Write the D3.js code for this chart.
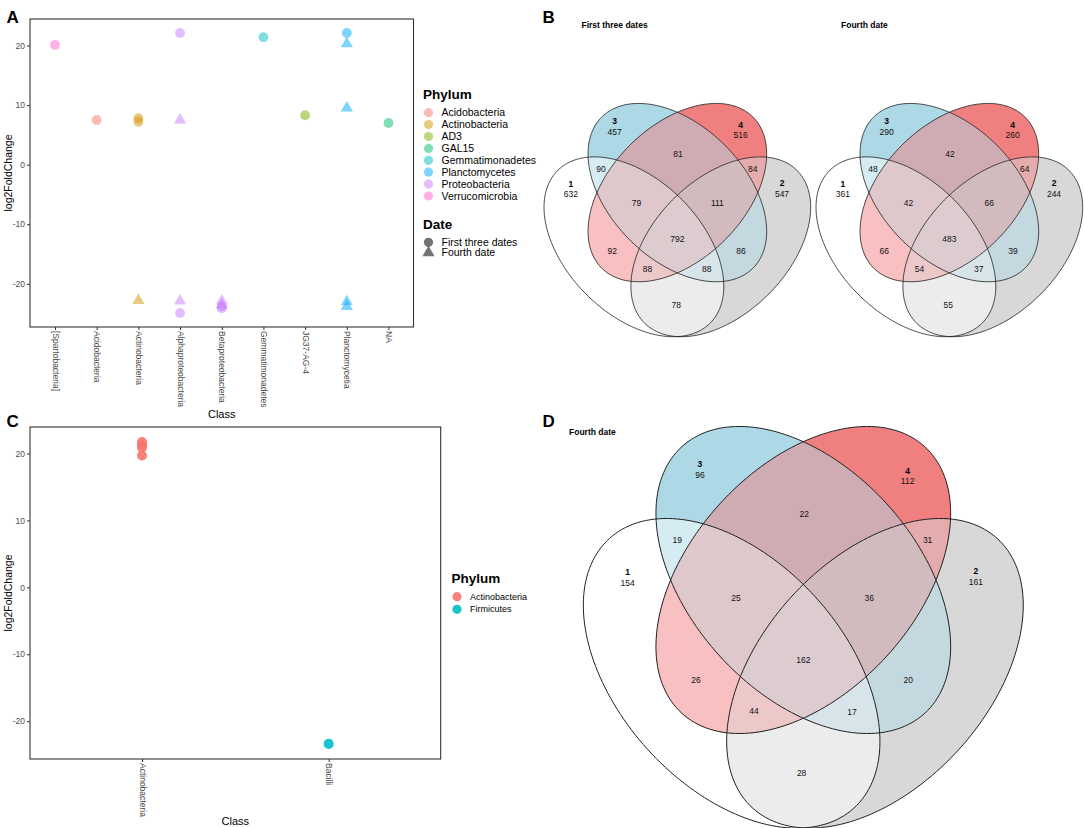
<!DOCTYPE html>
<html>
<head>
<meta charset="utf-8">
<script src="https://cdn.jsdelivr.net/npm/d3@7"></script>
<style>
  body { margin: 0; background: #fff; }
  svg { font-family: "Liberation Sans", Arial, sans-serif; }
</style>
</head>
<body>
<div id="chart"></div>
<script>
// ---- Panel A data ----
const aClasses = ["[Spartobacteria]", "Acidobacteria", "Actinobacteria", "Alphaproteobacteria",
  "Betaproteobacteria", "Gemmatimonadetes", "JG37-AG-4", "Planctomycetia", "NA"];
const aPhyla = ["Acidobacteria", "Actinobacteria", "AD3", "GAL15", "Gemmatimonadetes",
  "Planctomycetes", "Proteobacteria", "Verrucomicrobia"];
const aPhylumColors = ["#F8766D", "#CD9600", "#7CAE00", "#00BE67", "#00BFC4", "#00A9FF", "#C77CFF", "#FF61CC"];
const dates = ["First three dates", "Fourth date"];

const aPointClass = ["[Spartobacteria]", "Acidobacteria", "Actinobacteria", "Actinobacteria", "Actinobacteria",
  "Alphaproteobacteria", "Alphaproteobacteria", "Alphaproteobacteria", "Alphaproteobacteria",
  "Betaproteobacteria", "Betaproteobacteria", "Betaproteobacteria", "Betaproteobacteria",
  "Gemmatimonadetes", "JG37-AG-4", "Planctomycetia", "Planctomycetia", "Planctomycetia",
  "Planctomycetia", "Planctomycetia", "NA"];
const aPointPhylum = ["Verrucomicrobia", "Acidobacteria", "Actinobacteria", "Actinobacteria", "Actinobacteria",
  "Proteobacteria", "Proteobacteria", "Proteobacteria", "Proteobacteria",
  "Proteobacteria", "Proteobacteria", "Proteobacteria", "Proteobacteria",
  "Gemmatimonadetes", "AD3", "Planctomycetes", "Planctomycetes", "Planctomycetes",
  "Planctomycetes", "Planctomycetes", "GAL15"];
const aPointDate = [0, 0, 0, 0, 1, 0, 1, 1, 0, 1, 1, 0, 0, 0, 0, 0, 1, 1, 1, 1, 0];
const aPointValue = [20.1, 7.5, 7.8, 7.2, -22.8, 22.1, 7.5, -22.9, -24.9, -22.9, -23.5, -23.8, -24.1,
  21.4, 8.3, 22.1, 20.3, 9.5, -23.0, -23.8, 7.0];

// ---- Panel C data ----
const cClasses = ["Actinobacteria", "Bacilli"];
const cPhyla = ["Actinobacteria", "Firmicutes"];
const cPhylumColors = ["#F8766D", "#00BFC4"];
const cPointClass = ["Actinobacteria", "Actinobacteria", "Actinobacteria", "Actinobacteria", "Bacilli"];
const cPointPhylum = ["Actinobacteria", "Actinobacteria", "Actinobacteria", "Actinobacteria", "Firmicutes"];
const cPointValue = [21.7, 21.3, 20.9, 19.7, -23.4];

const yTicks = [-20, -10, 0, 10, 20];

// ---- Venn data ----
const vennSets = ["1", "2", "3", "4"];
const vennColors = ["#ffffff", "#d8d8d8", "#add8e6", "#f08080"];
const vennRegions = ["1", "2", "3", "4", "12", "13", "14", "23", "24", "34",
  "123", "124", "134", "234", "1234"];
const vennFirstThree = [632, 547, 457, 516, 78, 90, 92, 86, 84, 81, 88, 88, 79, 111, 792];
const vennFourth = [361, 244, 290, 260, 55, 48, 66, 39, 64, 42, 37, 54, 42, 66, 483];
const vennFourthD = [154, 161, 96, 112, 28, 19, 26, 20, 31, 22, 17, 44, 25, 36, 162];

// ellipse shapes in a model space (one unit = one pixel of a 3x view of panel D)
const ellipses = [
  { cx: 575, cy: 760, a: 546, b: 340, rot: 47.8 },
  { cx: 1005, cy: 760, a: 546, b: 340, rot: -47.8 },
  { cx: 790, cy: 480, a: 541, b: 339, rot: 47.7 },
  { cx: 790, cy: 480, a: 541, b: 339, rot: -47.7 }
];
// where each count sits in that model space
const regionLabelPos = {
  "1": [263, 488], "2": [1308, 486], "3": [480, 165], "4": [1103, 184],
  "12": [785, 1060], "13": [412, 360], "14": [468, 781], "23": [1105, 781], "24": [1163, 360],
  "34": [793, 283], "123": [936, 877], "124": [642, 873], "134": [588, 533], "234": [988, 535],
  "1234": [790, 720]
};
const modelX = [130, 1450];
const modelY = [15.6, 1224.4];

const W = 1084, H = 828;
const svg = d3.select("#chart").append("svg")
  .attr("width", W)
  .attr("height", H);

// ---------- scatter panel ----------
function drawScatter(cfg) {
  const g = svg.append("g");
  const x = d3.scalePoint().domain(cfg.classes).range([cfg.left, cfg.right]).padding(0.6);
  const ext = d3.extent(cfg.values);
  const pad = (ext[1] - ext[0]) * 0.05;
  const y = d3.scaleLinear().domain([ext[0] - pad, ext[1] + pad]).range([cfg.bottom, cfg.top]);
  const color = d3.scaleOrdinal().domain(cfg.phyla).range(cfg.colors);

  // points
  const pts = cfg.values.map((v, i) => ({
    cls: cfg.pointClass[i], phylum: cfg.pointPhylum[i],
    date: cfg.pointDate ? cfg.pointDate[i] : 0, value: v
  }));
  g.append("g").selectAll("path")
    .data(pts)
    .enter().append("path")
    .attr("transform", d => `translate(${x(d.cls)},${y(d.value)})`)
    .attr("d", d => d.date === 1
      ? d3.symbol(d3.symbolTriangle, 64)()
      : d3.symbol(d3.symbolCircle, cfg.pointSize)())
    .attr("fill", d => color(d.phylum))
    .attr("fill-opacity", cfg.alpha);

  // y axis (plain hyphen for negatives, as in the original)
  const yAxis = g.append("g")
    .attr("transform", `translate(${cfg.left},0)`)
    .call(d3.axisLeft(y).tickValues(yTicks).tickSize(3).tickPadding(2).tickFormat(d => String(d)))
    .attr("font-family", null).attr("font-size", null);
  yAxis.select(".domain").remove();
  yAxis.selectAll("line").attr("stroke", "#333");
  yAxis.selectAll("text").attr("fill", "#4d4d4d").style("font-size", "8.5px");

  // x axis
  const xAxis = g.append("g")
    .attr("transform", `translate(0,${cfg.bottom})`)
    .call(d3.axisBottom(x).tickSize(3))
    .attr("font-family", null).attr("font-size", null);
  xAxis.select(".domain").remove();
  xAxis.selectAll("line").attr("stroke", "#333");
  xAxis.selectAll("text")
    .attr("fill", "#4d4d4d")
    .style("font-size", "8.5px")
    .attr("text-anchor", "start")
    .attr("transform", "rotate(90)")
    .attr("x", 4).attr("y", 0).attr("dy", "0.35em");

  // panel border
  g.append("rect")
    .attr("x", cfg.left).attr("y", cfg.top)
    .attr("width", cfg.right - cfg.left).attr("height", cfg.bottom - cfg.top)
    .attr("fill", "none").attr("stroke", "#333").attr("stroke-width", 1.1);

  // axis titles
  g.append("text")
    .attr("x", (cfg.left + cfg.right) / 2).attr("y", cfg.xTitleY)
    .attr("text-anchor", "middle").style("font-size", "11px")
    .text("Class");
  g.append("text")
    .attr("transform", `translate(12,${(cfg.top + cfg.bottom) / 2}) rotate(-90)`)
    .attr("text-anchor", "middle").style("font-size", "10.5px")
    .text("log2FoldChange");

  // legend
  const leg = g.append("g");
  leg.append("text").attr("x", cfg.legX).attr("y", cfg.legY)
    .style("font-size", "13.5px").style("font-weight", "bold").text("Phylum");
  const items = leg.selectAll("g.item").data(cfg.phyla).enter().append("g")
    .attr("transform", (d, i) => `translate(${cfg.legX + 5.5},${cfg.legY + 13.7 + i * cfg.legStep})`);
  items.append("circle").attr("r", 4.6)
    .attr("fill", d => color(d)).attr("fill-opacity", cfg.alpha);
  items.append("text").attr("x", 13).attr("dy", "0.35em")
    .style("font-size", cfg.legFont).text(d => d);

  if (cfg.pointDate) {
    const dy0 = cfg.legY + 13.7 + (cfg.phyla.length - 1) * cfg.legStep + 33;
    leg.append("text").attr("x", cfg.legX).attr("y", dy0)
      .style("font-size", "13.5px").style("font-weight", "bold").text("Date");
    const di = leg.selectAll("g.date").data(dates).enter().append("g")
      .attr("transform", (d, i) => `translate(${cfg.legX + 5.5},${dy0 + 13.3 + i * 10.4})`);
    di.append("path")
      .attr("d", (d, i) => i === 1 ? d3.symbol(d3.symbolTriangle, 64)() : d3.symbol(d3.symbolCircle, 68)())
      .attr("fill", "#000").attr("fill-opacity", 0.55);
    di.append("text").attr("x", 13).attr("dy", "0.35em")
      .style("font-size", cfg.legFont).text(d => d);
  }
}

drawScatter({
  classes: aClasses, phyla: aPhyla, colors: aPhylumColors,
  pointClass: aPointClass, pointPhylum: aPointPhylum, pointDate: aPointDate, values: aPointValue,
  left: 30, right: 413.5, top: 19, bottom: 327, xTitleY: 418,
  pointSize: 76, alpha: 0.5,
  legX: 423, legY: 99, legStep: 11.9, legFont: "10.5px"
});

drawScatter({
  classes: cClasses, phyla: cPhyla, colors: cPhylumColors,
  pointClass: cPointClass, pointPhylum: cPointPhylum, pointDate: null, values: cPointValue,
  left: 30, right: 440.7, top: 427, bottom: 759, xTitleY: 825,
  pointSize: 80, alpha: 0.9,
  legX: 451.5, legY: 583, legStep: 12.6, legFont: "9px"
});

// ---------- venn panel ----------
function ellipsePoints(e) {
  const r = e.rot * Math.PI / 180;
  return d3.range(0, 181).map(k => {
    const t = k / 180 * 2 * Math.PI;
    return [
      e.cx + e.a * Math.cos(t) * Math.cos(r) - e.b * Math.sin(t) * Math.sin(r),
      e.cy + e.a * Math.cos(t) * Math.sin(r) + e.b * Math.sin(t) * Math.cos(r)
    ];
  });
}

function drawVenn(id, counts, xRange, yRange, title, titleX, titleY, strokeW) {
  const x = d3.scaleLinear().domain(modelX).range(xRange);
  const y = d3.scaleLinear().domain(modelY).range(yRange);
  const line = d3.line().x(p => x(p[0])).y(p => y(p[1])).curve(d3.curveLinearClosed);
  const paths = ellipses.map(e => line(ellipsePoints(e)));

  const defs = svg.append("defs");
  paths.forEach((p, i) => {
    defs.append("clipPath").attr("id", `${id}-c${i}`).append("path").attr("d", p);
  });

  const g = svg.append("g");
  // paint regions from fewest sets to most; each colour is the mean of its sets' colours
  const ordered = vennRegions.slice().sort((a, b) => a.length - b.length);
  ordered.forEach(key => {
    const idx = key.split("").map(s => vennSets.indexOf(s));
    const cols = idx.map(i => d3.rgb(vennColors[i]));
    const fill = d3.rgb(d3.mean(cols, c => c.r), d3.mean(cols, c => c.g), d3.mean(cols, c => c.b));
    let holder = g;
    idx.slice(1).forEach(i => {
      holder = holder.append("g").attr("clip-path", `url(#${id}-c${i})`);
    });
    holder.append("path").attr("d", paths[idx[0]]).attr("fill", fill);
  });

  // outlines
  g.selectAll("path.outline").data(paths).enter().append("path")
    .attr("class", "outline")
    .attr("d", d => d)
    .attr("fill", "none")
    .attr("stroke", "#222")
    .attr("stroke-width", strokeW);

  // counts
  vennRegions.forEach((key, i) => {
    const p = regionLabelPos[key];
    g.append("text")
      .attr("x", x(p[0])).attr("y", y(p[1]))
      .attr("dy", "0.35em").attr("text-anchor", "middle")
      .style("font-size", "8.5px").attr("fill", "#111")
      .text(counts[i]);
    if (key.length === 1) {
      g.append("text")
        .attr("x", x(p[0])).attr("y", y(p[1]) - 10.5)
        .attr("dy", "0.35em").attr("text-anchor", "middle")
        .style("font-size", "8.5px").style("font-weight", "bold")
        .text(key);
    }
  });

  svg.append("text").attr("x", titleX).attr("y", titleY)
    .style("font-size", "8.5px").style("font-weight", "bold").text(title);
}

drawVenn("vb1", vennFirstThree, [544, 810.7], [102.7, 336.7], "First three dates", 581.5, 28, 0.8);
drawVenn("vb2", vennFourth, [816, 1082.7], [102.7, 336.7], "Fourth date", 841, 28, 0.8);
drawVenn("vd", vennFourthD, [583.3, 1023.3], [425.2, 828.1], "Fourth date", 569, 435, 1);

// panel letters
const letters = [["A", 6.5, 22.5], ["B", 542.5, 22.5], ["C", 6.5, 427], ["D", 542.5, 427]];
svg.selectAll("text.letter").data(letters).enter().append("text")
  .attr("class", "letter")
  .attr("x", d => d[1]).attr("y", d => d[2])
  .style("font-size", "17px").style("font-weight", "bold")
  .text(d => d[0]);
</script>
</body>
</html>
